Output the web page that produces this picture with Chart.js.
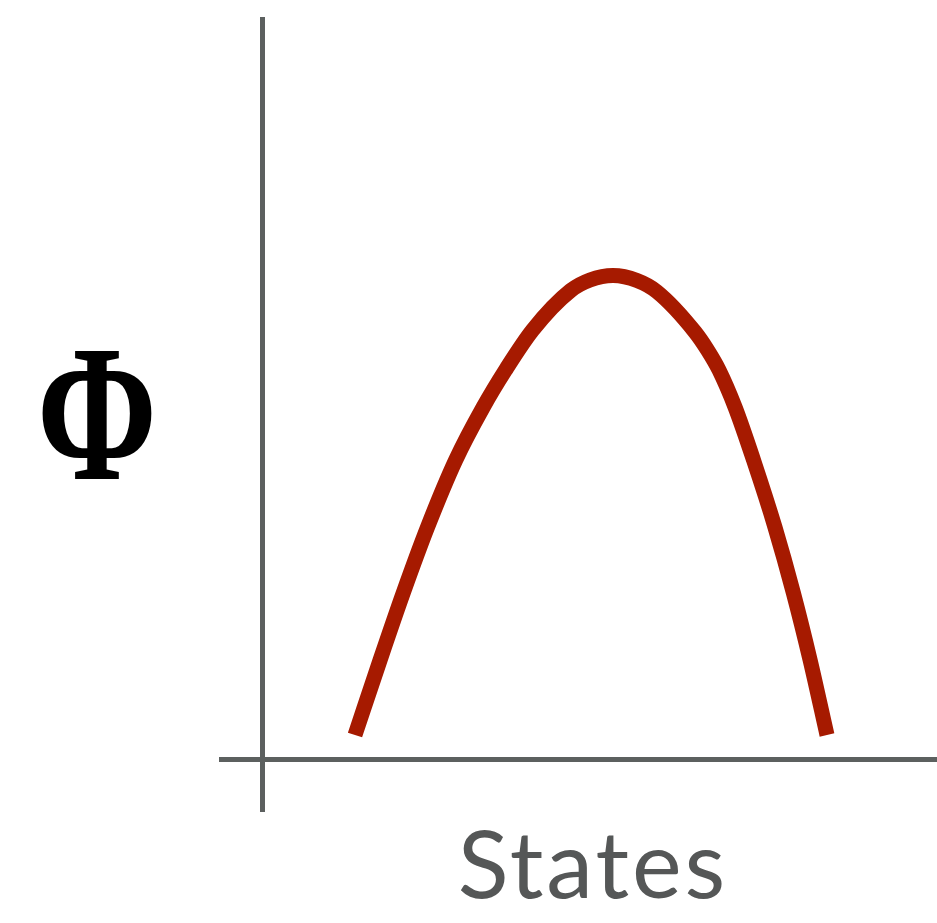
<!DOCTYPE html>
<html>
<head>
<meta charset="utf-8">
<title>Phi vs States</title>
<script src="https://cdn.jsdelivr.net/npm/chart.js@4/dist/chart.umd.min.js"></script>
<style>
  html, body { margin: 0; padding: 0; background: #fff; }
  #wrap { width: 937px; height: 923px; }
</style>
</head>
<body>
<div id="wrap"><canvas id="phiChart" width="937" height="923"></canvas></div>
<script>
// curve (x = state, y = phi), axes cross at 0,0
const stateX = [0.925, 1.176, 1.407, 1.651, 1.932, 2.208, 2.430, 2.702, 3.082, 3.275, 3.505,
                3.745, 3.942, 4.325, 4.450, 4.565, 4.725, 4.910, 5.124, 5.309, 5.476, 5.645];
const phiY   = [0.245, 0.995, 1.665, 2.325, 2.995, 3.525, 3.895, 4.295, 4.690, 4.795, 4.840,
                4.790, 4.680, 4.275, 4.095, 3.895, 3.525, 2.995, 2.325, 1.665, 0.995, 0.245];

const xLabel = "States";
const yLabel = "\u03A6";

const axisColor = "#5c605f";
const curveColor = "#a61a00";

// axis lines + labels, placed from the scales
const axesPlugin = {
  id: "phiAxes",
  afterDraw(chart) {
    const { ctx, chartArea, scales } = chart;
    const x0 = scales.x.getPixelForValue(0);
    const y0 = scales.y.getPixelForValue(0);

    ctx.save();
    ctx.strokeStyle = axisColor;
    ctx.lineWidth = 5;
    ctx.beginPath();
    ctx.moveTo(x0, chartArea.top);
    ctx.lineTo(x0, chartArea.bottom);
    ctx.moveTo(chartArea.left, y0);
    ctx.lineTo(chartArea.right, y0);
    ctx.stroke();

    // x title
    ctx.fillStyle = "#555757";
    ctx.font = '400 94px Lato, "Open Sans", sans-serif';
    ctx.letterSpacing = "3px";
    ctx.textAlign = "center";
    ctx.textBaseline = "alphabetic";
    ctx.fillText(xLabel, 593, 898);
    ctx.letterSpacing = "0px";

    // y title (upright Phi, fitted into its box)
    ctx.font = 'bold 200px "Liberation Serif", "DejaVu Serif", serif';
    ctx.textAlign = "left";
    const m = ctx.measureText(yLabel);
    const w = m.actualBoundingBoxLeft + m.actualBoundingBoxRight;
    const h = m.actualBoundingBoxAscent + m.actualBoundingBoxDescent;
    const boxL = 42, boxT = 352, boxW = 110, boxH = 127;
    ctx.translate(boxL, boxT);
    ctx.scale(boxW / w, boxH / h);
    ctx.fillStyle = "#000";
    ctx.fillText(yLabel, m.actualBoundingBoxLeft, m.actualBoundingBoxAscent);
    ctx.restore();
  }
};

const ctx = document.getElementById("phiChart").getContext("2d");

new Chart(ctx, {
  type: "line",
  data: {
    datasets: [{
      label: "Phi",
      data: stateX.map((x, i) => ({ x: x, y: phiY[i] })),
      borderColor: curveColor,
      borderWidth: 15,
      pointRadius: 0,
      fill: false,
      cubicInterpolationMode: "monotone"
    }]
  },
  options: {
    responsive: false,
    animation: false,
    layout: { padding: { left: 219, right: 0, top: 17, bottom: 111 } },
    plugins: {
      legend: { display: false },
      tooltip: { enabled: false }
    },
    scales: {
      x: { type: "linear", min: -0.435, max: 6.745, display: false },
      y: { type: "linear", min: -0.525, max: 7.425, display: false }
    }
  },
  plugins: [axesPlugin]
});
</script>
</body>
</html>
